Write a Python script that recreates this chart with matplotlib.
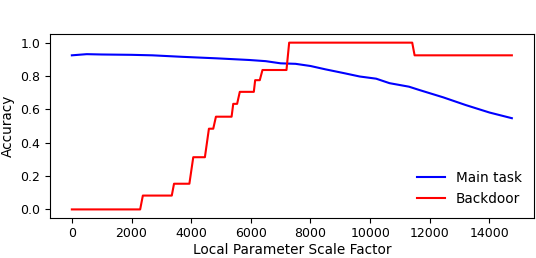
"""Main task vs backdoor accuracy as the local parameter scale grows"""

import matplotlib
matplotlib.use('Agg')
import matplotlib.pyplot as plt

# ############################################################################ #
# Values #

lScaleMain = [0, 500, 1000, 2000, 2700, 3700, 4850, 5950, 6500, 7000, 7500,
	8000, 8500, 9100, 9650, 10200, 10650, 11300, 11650, 12450, 13200, 14000,
	14750]
lAccMain = [0.924, 0.931, 0.929, 0.927, 0.924, 0.915, 0.906, 0.896, 0.889,
	0.876, 0.873, 0.860, 0.840, 0.818, 0.797, 0.784, 0.757, 0.736, 0.716,
	0.672, 0.626, 0.581, 0.547]

lScaleBd = [0, 2290, 2380, 3350, 3425, 3940, 4070, 4460, 4595, 4740, 4830,
	5355, 5410, 5540, 5630, 6100, 6145, 6300, 6390, 7195, 7285, 11410, 11490,
	14750]
lAccBd = [0, 0, 0.083, 0.083, 0.154, 0.154, 0.313, 0.313, 0.484, 0.484,
	0.556, 0.556, 0.633, 0.633, 0.705, 0.705, 0.775, 0.775, 0.836, 0.836,
	1.0, 1.0, 0.924, 0.924]

lYTicks = [0.0, 0.2, 0.4, 0.6, 0.8, 1.0]
lXTicks = [0, 2000, 4000, 6000, 8000, 10000, 12000, 14000]

# ############################################################################ #

def main():
	plt.rcParams['font.size'] = 9.8

	fig = plt.figure(figsize=(5.36, 2.58), dpi=100)
	ax = fig.add_axes([0.093, 0.156, 0.903, 0.711])

	ax.plot(lScaleMain, lAccMain, '-', color='blue', lw=1.5, label='Main task')
	ax.plot(lScaleBd, lAccBd, '-', color='red', lw=1.5, label='Backdoor')

	ax.set_xticks(lXTicks)
	ax.set_yticks(lYTicks)
	ax.tick_params(labelsize=9)
	ax.set_xlabel('Local Parameter Scale Factor', labelpad=1.5)
	ax.set_ylabel('Accuracy')
	ax.legend(loc='lower right', frameon=False)

	fig.savefig('out.png', dpi=100)
	return 0


if __name__ == "__main__":
	main()
